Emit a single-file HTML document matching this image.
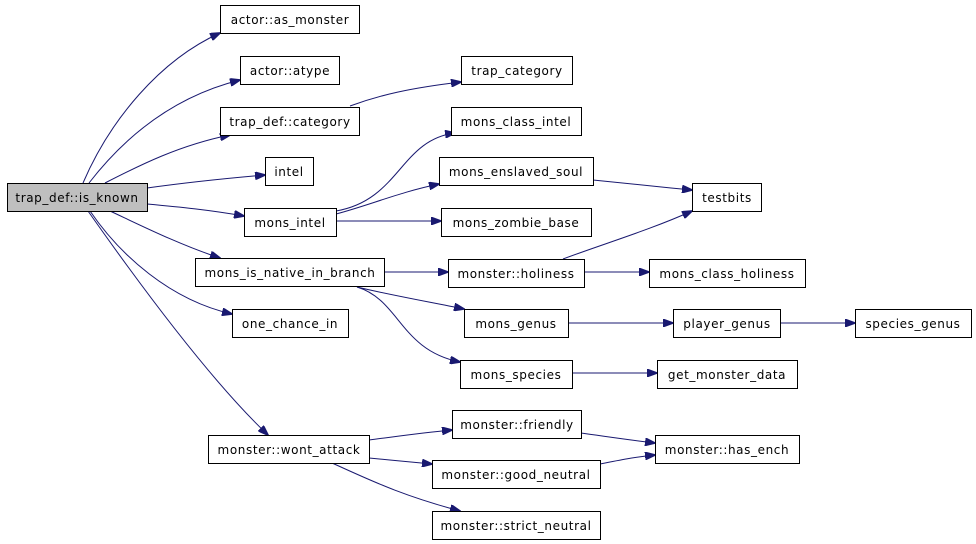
<!DOCTYPE html>
<html><head><meta charset="utf-8"><style>
html,body{margin:0;padding:0;background:#fff;}
svg{display:block;}
text{font-family:"DejaVu Sans","Liberation Sans",sans-serif;font-size:12px;letter-spacing:0.6px;fill:#000;text-anchor:middle;}
rect{fill:#fff;stroke:#000;stroke-width:1;}
path{fill:none;stroke:#191970;stroke-width:1;}
</style></head><body>
<svg width="976" height="544" viewBox="0 0 976 544" xmlns="http://www.w3.org/2000/svg">
<defs>
<marker id="a" markerWidth="11" markerHeight="8" refX="10" refY="4" orient="auto" markerUnits="userSpaceOnUse">
<path d="M0,0 L11,4 L0,8 Z" style="fill:#191970;stroke:#191970"/>
</marker>
</defs>
<g marker-end="url(#a)">
<path d="M83,183 C110,120 160,60 220,33"/>
<path d="M89,183 C130,130 180,95 240,80"/>
<path d="M105,183 C140,165 180,145 230,135"/>
<path d="M147,188 C190,182 230,178 265,175"/>
<path d="M147,204 C180,207 210,210 244,216"/>
<path d="M110,211 C140,225 180,245 220,258"/>
<path d="M90,211 C120,255 170,300 232,314"/>
<path d="M88,211 C140,285 210,380 268,435"/>
<path d="M350,106 C380,95 410,88 461,82"/>
<path d="M336,211 C400,200 400,140 455,133"/>
<path d="M336,214 C370,205 400,192 439,184"/>
<path d="M336,221 L441,221"/>
<path d="M593,180 C630,184 660,187 692,190"/>
<path d="M563,259 C600,245 650,230 692,211"/>
<path d="M384,272 L448,272"/>
<path d="M584,272 L649,272"/>
<path d="M357,287 C390,295 430,302 464,309"/>
<path d="M357,287 C400,300 400,350 460,362"/>
<path d="M568,323 L673,323"/>
<path d="M780,323 L855,323"/>
<path d="M572,373 L657,373"/>
<path d="M369,440 C400,436 420,433 452,430"/>
<path d="M369,458 C390,460 410,462 432,464"/>
<path d="M332,463 C370,480 400,495 460,511"/>
<path d="M581,433 C610,437 630,440 655,443"/>
<path d="M600,464 C620,460 635,457 655,455"/>
</g>
<rect x="7.5" y="183.5" width="140" height="28" style="fill:#bfbfbf"/><text x="77" y="202">trap_def::is_known</text>
<rect x="220.5" y="5.5" width="139" height="28"/><text x="290" y="24">actor::as_monster</text>
<rect x="240.5" y="56.5" width="99" height="28"/><text x="290" y="75">actor::atype</text>
<rect x="220.5" y="107.5" width="139" height="28"/><text x="290" y="126">trap_def::category</text>
<rect x="265.5" y="157.5" width="48" height="28"/><text x="289" y="176">intel</text>
<rect x="244.5" y="208.5" width="92" height="28"/><text x="290" y="227">mons_intel</text>
<rect x="195.5" y="258.5" width="189" height="28"/><text x="290" y="277">mons_is_native_in_branch</text>
<rect x="232.5" y="309.5" width="116" height="28"/><text x="290" y="328">one_chance_in</text>
<rect x="208.5" y="435.5" width="161" height="28"/><text x="289" y="454">monster::wont_attack</text>
<rect x="461.5" y="56.5" width="111" height="28"/><text x="517" y="75">trap_category</text>
<rect x="451.5" y="107.5" width="130" height="28"/><text x="516" y="126">mons_class_intel</text>
<rect x="439.5" y="157.5" width="154" height="28"/><text x="516" y="176">mons_enslaved_soul</text>
<rect x="441.5" y="208.5" width="150" height="28"/><text x="516" y="227">mons_zombie_base</text>
<rect x="448.5" y="259.5" width="136" height="28"/><text x="516" y="278">monster::holiness</text>
<rect x="464.5" y="309.5" width="104" height="28"/><text x="516" y="328">mons_genus</text>
<rect x="460.5" y="360.5" width="112" height="28"/><text x="516" y="379">mons_species</text>
<rect x="452.5" y="410.5" width="129" height="28"/><text x="517" y="429">monster::friendly</text>
<rect x="432.5" y="460.5" width="168" height="28"/><text x="516" y="479">monster::good_neutral</text>
<rect x="432.5" y="511.5" width="168" height="28"/><text x="516" y="530">monster::strict_neutral</text>
<rect x="692.5" y="183.5" width="69" height="28"/><text x="727" y="202">testbits</text>
<rect x="649.5" y="259.5" width="156" height="28"/><text x="727" y="278">mons_class_holiness</text>
<rect x="673.5" y="309.5" width="107" height="28"/><text x="727" y="328">player_genus</text>
<rect x="657.5" y="360.5" width="140" height="28"/><text x="727" y="379">get_monster_data</text>
<rect x="655.5" y="435.5" width="144" height="28"/><text x="727" y="454">monster::has_ench</text>
<rect x="855.5" y="309.5" width="116" height="28"/><text x="913" y="328">species_genus</text>
</svg>
</body></html>
